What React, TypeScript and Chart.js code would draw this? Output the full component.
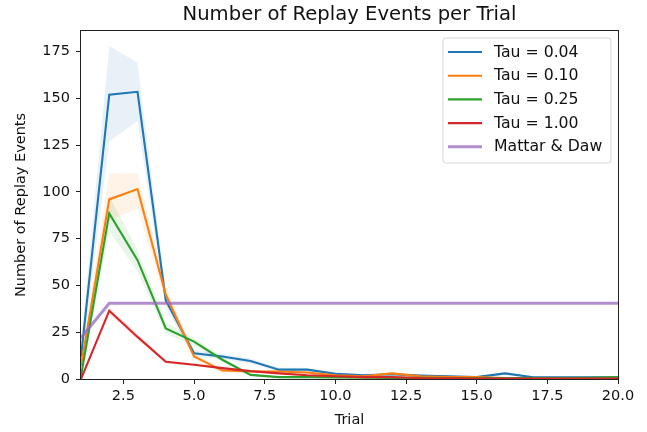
import React, { useEffect, useRef } from "react";
import { Chart, registerables } from "chart.js";

Chart.register(...registerables);

const trials = [1, 2, 3, 4, 5, 6, 7, 8, 9, 10, 11, 12, 13, 14, 15, 16, 17, 18, 19, 20];

const seriesLabels = ["Tau = 0.04", "Tau = 0.10", "Tau = 0.25", "Tau = 1.00", "Mattar & Daw"];

const tau004 = [12, 152, 153.5, 42, 13.8, 12, 9.6, 5, 5, 2.8, 2, 2.5, 1.8, 1.4, 1, 3, 0.9, 0.9, 0.9, 0.9];
const tau004Low = [6, 127, 138, 38, 12, 10.5, 8.3, 4, 4, 2, 1.4, 1.8, 1.2, 0.9, 0.6, 2.2, 0.5, 0.5, 0.5, 0.5];
const tau004High = [19, 178, 169, 47, 15.5, 13.5, 11, 6, 6, 3.6, 2.6, 3.2, 2.4, 1.9, 1.4, 3.8, 1.3, 1.3, 1.3, 1.3];

const tau010 = [7, 96, 101.5, 45, 12, 4.5, 4, 4, 3.5, 2, 1.5, 3, 1.5, 1, 1, 0.5, 0.5, 0.5, 0.5, 0.5];
const tau010Low = [3, 85, 91, 41, 10.5, 3.5, 3.2, 3.2, 2.8, 1.5, 1, 2.3, 1, 0.6, 0.6, 0.2, 0.2, 0.2, 0.2, 0.2];
const tau010High = [11, 110, 110, 49, 13.5, 5.5, 4.8, 4.8, 4.2, 2.5, 2, 3.7, 2, 1.4, 1.4, 0.8, 0.8, 0.8, 0.8, 0.8];

const tau025 = [1.5, 88.5, 63.5, 27, 20, 10.3, 2.2, 1, 1, 0.8, 0.7, 0.6, 0.6, 0.5, 0.5, 0.5, 0.5, 0.5, 0.6, 1];
const tau025Low = [0, 79, 57.5, 24, 18, 9, 1.6, 0.6, 0.6, 0.5, 0.4, 0.3, 0.3, 0.2, 0.2, 0.2, 0.2, 0.2, 0.3, 0.6];
const tau025High = [3, 98, 69, 30, 22, 11.6, 2.8, 1.4, 1.4, 1.1, 1, 0.9, 0.9, 0.8, 0.8, 0.8, 0.8, 0.8, 0.9, 1.4];

const tau100 = [0, 36.5, 22.5, 9.2, 7.6, 5.8, 4.2, 3, 2, 1.5, 1, 1, 0.5, 0.4, 0.3, 0.3, 0.3, 0.3, 0.3, 0.3];
const tau100Low = [0, 34.5, 21, 8.4, 6.9, 5.1, 3.6, 2.5, 1.6, 1.1, 0.7, 0.7, 0.3, 0.2, 0.1, 0.1, 0.1, 0.1, 0.1, 0.1];
const tau100High = [0, 38.5, 24, 10, 8.3, 6.5, 4.8, 3.5, 2.4, 1.9, 1.3, 1.3, 0.7, 0.6, 0.5, 0.5, 0.5, 0.5, 0.5, 0.5];

const mattarDaw = [22, 40.5, 40.5, 40.5, 40.5, 40.5, 40.5, 40.5, 40.5, 40.5, 40.5, 40.5, 40.5, 40.5, 40.5, 40.5, 40.5, 40.5, 40.5, 40.5];

const xTicks = [2.5, 5, 7.5, 10, 12.5, 15, 17.5, 20];
const yTicks = [0, 25, 50, 75, 100, 125, 150, 175];

const FONT = "DejaVu Sans";
const TICK_SIZE = 14.5;
const colors = ["#1f77b4", "#ff7f0e", "#2ca02c", "#d62728", "rgba(148,103,189,0.75)"];
const bandColors = [
  "rgba(31,119,180,0.1)",
  "rgba(255,127,14,0.1)",
  "rgba(44,160,44,0.1)",
  "rgba(214,39,40,0.1)",
];

const pts = (vals: number[]) => trials.map((t, i) => ({ x: t, y: vals[i] }));

export default function App() {
  const ref = useRef<HTMLCanvasElement>(null);
  useEffect(() => {
    if (!ref.current) return;
    const mains = [tau004, tau010, tau025, tau100];
    const lows = [tau004Low, tau010Low, tau025Low, tau100Low];
    const highs = [tau004High, tau010High, tau025High, tau100High];
    const datasets: any[] = [];
    mains.forEach((m, i) => {
      datasets.push({
        label: seriesLabels[i],
        data: pts(m),
        borderColor: colors[i],
        borderWidth: 2.1,
        pointRadius: 0,
        fill: false,
        order: 4 - i + 1,
      });
    });
    datasets.push({
      label: seriesLabels[4],
      data: pts(mattarDaw),
      borderColor: colors[4],
      borderWidth: 3,
      pointRadius: 0,
      fill: false,
      order: 0,
    });
    lows.forEach((lo, i) => {
      datasets.push({
        label: "low" + i,
        data: pts(lo),
        borderWidth: 0,
        borderColor: "transparent",
        pointRadius: 0,
        fill: false,
        order: 10,
      });
      datasets.push({
        label: "high" + i,
        data: pts(highs[i]),
        borderWidth: 0,
        borderColor: "transparent",
        backgroundColor: bandColors[i],
        pointRadius: 0,
        fill: "-1",
        order: 10,
      });
    });

    const boxPlugin = {
      id: "boxPlugin",
      afterDatasetsDraw(chart: any) {
        const { ctx, chartArea } = chart;
        const l = Math.round(chartArea.left);
        const r = Math.round(chartArea.right);
        const t = Math.round(chartArea.top);
        const b = Math.round(chartArea.bottom);
        ctx.save();
        ctx.fillStyle = "#222";
        ctx.fillRect(l - 1, t - 1, r - l + 2, 1);
        ctx.fillRect(l - 1, b, r - l + 2, 1);
        ctx.fillRect(l - 1, t - 1, 1, b - t + 2);
        ctx.fillRect(r, t - 1, 1, b - t + 2);
        ctx.restore();
      },
    };

    const legendPlugin = {
      id: "legendPlugin",
      afterDraw(chart: any) {
        const { ctx, chartArea } = chart;
        const right = chartArea.right - 7;
        const top = chartArea.top + 7;
        const w = 168;
        const h = 125;
        const left = right - w;
        ctx.save();
        ctx.beginPath();
        const rr = 3;
        ctx.moveTo(left + rr, top);
        ctx.lineTo(left + w - rr, top);
        ctx.arcTo(left + w, top, left + w, top + rr, rr);
        ctx.lineTo(left + w, top + h - rr);
        ctx.arcTo(left + w, top + h, left + w - rr, top + h, rr);
        ctx.lineTo(left + rr, top + h);
        ctx.arcTo(left, top + h, left, top + h - rr, rr);
        ctx.lineTo(left, top + rr);
        ctx.arcTo(left, top, left + rr, top, rr);
        ctx.closePath();
        ctx.fillStyle = "rgba(255,255,255,0.8)";
        ctx.fill();
        ctx.strokeStyle = "rgba(204,204,204,0.8)";
        ctx.lineWidth = 1;
        ctx.stroke();
        ctx.font = `15.7px "${FONT}"`;
        ctx.textBaseline = "middle";
        ctx.textAlign = "left";
        seriesLabels.forEach((lab, i) => {
          const y = top + 14 + i * 23.7;
          ctx.strokeStyle = colors[i];
          ctx.lineWidth = i === 4 ? 3 : 2.1;
          ctx.beginPath();
          ctx.moveTo(left + 5, y);
          ctx.lineTo(left + 39, y);
          ctx.stroke();
          ctx.fillStyle = "#111";
          ctx.fillText(lab, left + 51, y + 0.5);
        });
        ctx.restore();
      },
    };

    const chart = new Chart(ref.current, {
      type: "line",
      data: { datasets },
      options: {
        animation: false,
        responsive: false,
        devicePixelRatio: 1,
        layout: { padding: { left: 0, right: 29, top: 0, bottom: 0 } },
        plugins: {
          legend: { display: false },
          tooltip: { enabled: false },
          title: {
            display: true,
            fullSize: false,
            text: "Number of Replay Events per Trial",
            color: "#111",
            font: { family: FONT, size: 19.6, weight: "normal" },
            padding: { top: 3, bottom: 4.5 },
          },
        },
        scales: {
          x: {
            type: "linear",
            min: 1,
            max: 20,
            afterBuildTicks: (scale: any) => {
              scale.ticks = xTicks.map((v) => ({ value: v }));
            },
            afterFit: (scale: any) => {
              scale.height = 53;
            },
            ticks: {
              autoSkip: false,
              maxRotation: 0,
              padding: 4,
              color: "#111",
              font: { family: FONT, size: TICK_SIZE },
              callback: (v: any) => Number(v).toFixed(1),
            },
            grid: {
              display: true,
              drawOnChartArea: false,
              drawTicks: true,
              tickLength: 5,
              tickColor: "#222",
              tickWidth: 1,
            },
            border: { display: false },
            title: {
              display: true,
              text: "Trial",
              color: "#111",
              font: { family: FONT, size: TICK_SIZE },
              padding: { top: 0, bottom: 3 },
            },
          },
          y: {
            type: "linear",
            min: 0,
            max: 186,
            afterBuildTicks: (scale: any) => {
              scale.ticks = yTicks.map((v) => ({ value: v }));
            },
            afterFit: (scale: any) => {
              scale.width = 81;
            },
            ticks: {
              autoSkip: false,
              padding: 6,
              color: "#111",
              font: { family: FONT, size: TICK_SIZE },
              callback: (v: any) => String(v),
            },
            grid: {
              display: true,
              drawOnChartArea: false,
              drawTicks: true,
              tickLength: 5,
              tickColor: "#222",
              tickWidth: 1,
            },
            border: { display: false },
            title: {
              display: true,
              text: "Number of Replay Events",
              color: "#111",
              font: { family: FONT, size: TICK_SIZE },
              padding: { top: 12.5, bottom: 0 },
            },
          },
        },
      },
      plugins: [boxPlugin, legendPlugin],
    } as any);
    return () => chart.destroy();
  }, []);
  return (
    <div style={{ position: "fixed", left: 0, top: 0, width: 647, height: 432, background: "#fff" }}>
      <canvas ref={ref} width={647} height={432} />
    </div>
  );
}
